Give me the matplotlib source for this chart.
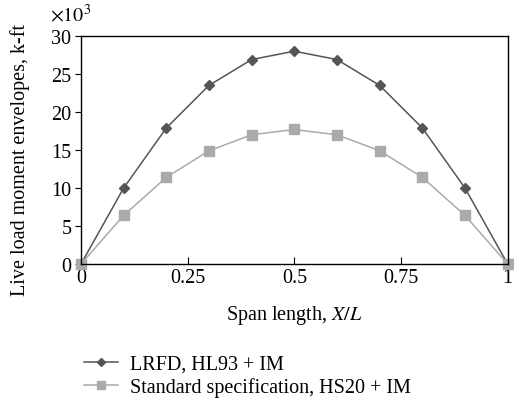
import matplotlib.pyplot as plt

plt.rcParams['font.family'] = 'Liberation Serif'
plt.rcParams['mathtext.fontset'] = 'stix'

# dati ---------------------------------------------------------------
span = [0, 0.1, 0.2, 0.3, 0.4, 0.5, 0.6, 0.7, 0.8, 0.9, 1.0]
lrfd = [0, 10.0, 17.9, 23.5, 26.9, 28.0, 26.9, 23.5, 17.9, 10.0, 0]
standard = [0, 6.4, 11.4, 14.9, 17.0, 17.7, 17.0, 14.9, 11.4, 6.4, 0]
xticks = [0, 0.25, 0.5, 0.75, 1]
xticklabels = ["0", "0.25", "0.5", "0.75", "1"]
yticks = [0, 5, 10, 15, 20, 25, 30]

fs = 14.5

fig = plt.figure(figsize=(5.14, 4.02), dpi=100)
ax = fig.add_axes([0.1576, 0.3408, 0.830, 0.5672])

ax.plot(span, lrfd, color="#555555", lw=1.1, marker="D", ms=5.5,
        label="LRFD, HL93 + IM")
ax.plot(span, standard, color="#aaaaaa", lw=1.1, marker="s", ms=7,
        label="Standard specification, HS20 + IM")

ax.set_xlim(0, 1)
ax.set_ylim(0, 30)
ax.set_xticks(xticks)
ax.set_xticklabels(xticklabels)
ax.set_yticks(yticks)
ax.tick_params(axis="x", direction="in", length=5, labelsize=fs, pad=3)
ax.tick_params(axis="y", direction="out", length=4, labelsize=fs, pad=3)
for sp in ax.spines.values():
    sp.set_linewidth(1.0)
for m in ax.get_lines():
    m.set_clip_on(False)

ax.set_xlabel("Span length, $\\mathit{X/L}$", fontsize=fs)
ax.xaxis.set_label_coords(0.5, -0.17)
ax.set_ylabel("Live load moment envelopes, k-ft", fontsize=fs)
ax.yaxis.set_label_coords(-0.12, 0.46)
fig.text(0.098, 0.945, "$\\times10^3$", fontsize=fs)

ax.legend(loc="upper left", bbox_to_anchor=(0.148, 0.135), bbox_transform=fig.transFigure,
          frameon=False, fontsize=fs, handlelength=1.7, markerscale=0.75,
          borderaxespad=0, labelspacing=0.15, handletextpad=0.6)

fig.savefig("out.png", dpi=100)
